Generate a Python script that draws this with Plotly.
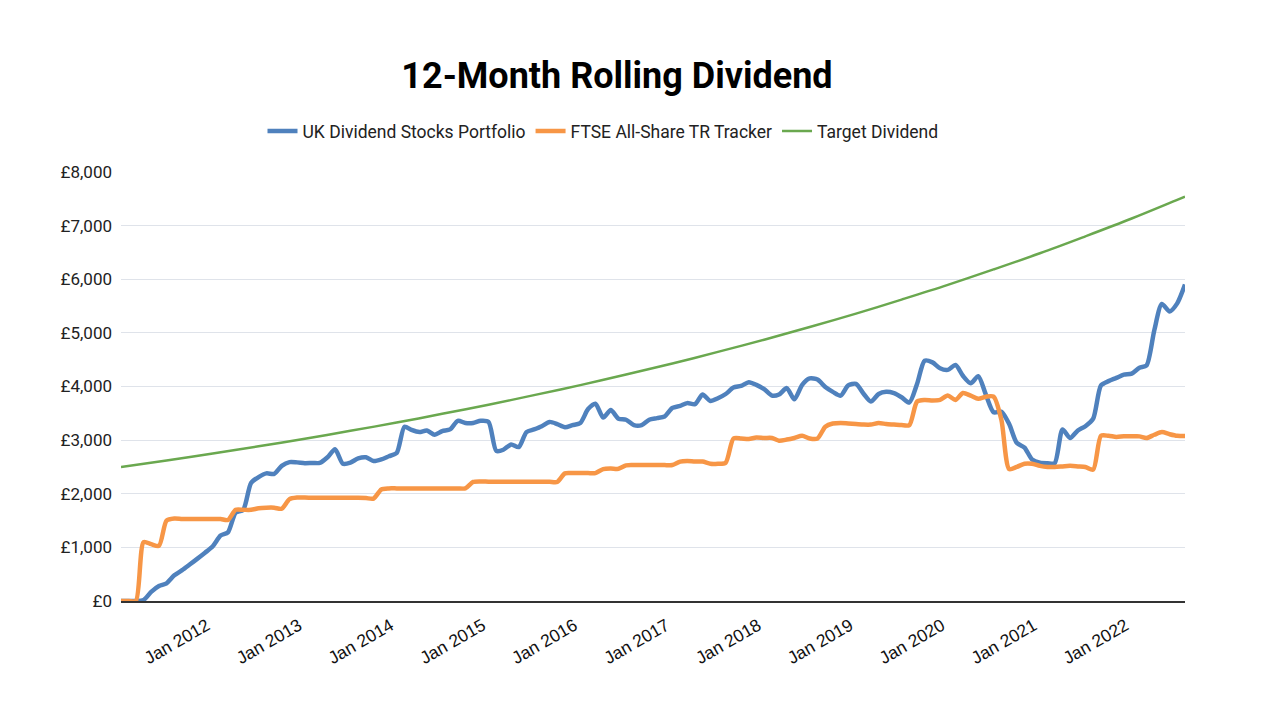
import pandas as pd
import plotly.graph_objects as go

months = pd.date_range("2011-01-01", "2022-08-01", freq="MS")

portfolio = [
    0, 0, 0, 20, 170, 280, 330, 480, 575, 680, 790, 900,
    1020, 1220, 1280, 1650, 1700, 2200, 2310, 2380, 2370, 2520, 2590, 2585,
    2570, 2575, 2575, 2680, 2830, 2560, 2580, 2660, 2680, 2610, 2640, 2700,
    2760, 3250, 3190, 3150, 3180, 3100, 3170, 3200, 3360, 3320, 3320, 3360,
    3340, 2800, 2820, 2920, 2870, 3150, 3200, 3260, 3340, 3300, 3240, 3280,
    3320, 3580, 3680, 3420, 3560, 3400, 3380, 3280, 3280, 3380, 3410, 3440,
    3600, 3640, 3690, 3670, 3850, 3730, 3780, 3860, 3980, 4010, 4080, 4030,
    3950, 3830, 3850, 3970, 3760, 4030, 4150, 4130, 3990, 3900, 3830, 4020,
    4050, 3860, 3720, 3860, 3900, 3875, 3800, 3700, 4050, 4480, 4450, 4340,
    4310, 4400, 4200, 4060, 4190, 3840, 3520, 3530, 3300, 2950, 2860, 2640,
    2580, 2570, 2570, 3200, 3040, 3180, 3260, 3400, 4020, 4100, 4160, 4220,
    4240, 4350, 4390, 5050, 5540, 5400, 5550, 5900,
]

tracker = [
    0, 0, 0, 1100, 1060, 1030, 1500, 1540, 1530, 1530, 1530, 1530,
    1530, 1530, 1510, 1700, 1700, 1700, 1730, 1740, 1740, 1720, 1900, 1930,
    1930, 1925, 1925, 1925, 1925, 1925, 1925, 1925, 1920, 1910, 2080, 2100,
    2100, 2100, 2100, 2100, 2100, 2100, 2100, 2100, 2100, 2100, 2220, 2230,
    2225, 2225, 2225, 2225, 2225, 2225, 2225, 2225, 2225, 2220, 2380, 2385,
    2385, 2385, 2385, 2460, 2470, 2465, 2530, 2535, 2535, 2535, 2535, 2535,
    2535, 2600, 2610, 2600, 2600, 2560, 2560, 2580, 3030, 3030, 3020, 3050,
    3040, 3040, 2990, 3010, 3040, 3080, 3030, 3030, 3250, 3310, 3320, 3310,
    3300, 3290, 3290, 3320, 3300, 3290, 3280, 3280, 3720, 3750, 3740, 3750,
    3830, 3750, 3880, 3830, 3770, 3810, 3810, 3380, 2460, 2500, 2560, 2560,
    2520, 2500, 2500, 2510, 2520, 2510, 2500, 2450, 3080, 3080, 3060, 3070,
    3070, 3070, 3040, 3100, 3150, 3110, 3080, 3075,
]

target_dates = list(pd.date_range("2011-01-01", "2022-07-01", freq="6MS")) + [pd.Timestamp("2022-08-01")]
target = [2500, 2622, 2750, 2884, 3025, 3173, 3328, 3490, 3660, 3839, 4026, 4223,
          4429, 4645, 4872, 5110, 5359, 5621, 5895, 6183, 6484, 6801, 7133, 7481, 7540]

y_ticks = [0, 1000, 2000, 3000, 4000, 5000, 6000, 7000, 8000]
y_labels = ["£0", "£1,000", "£2,000", "£3,000", "£4,000", "£5,000", "£6,000", "£7,000", "£8,000"]
x_ticks = list(pd.date_range("2012-01-01", "2022-01-01", freq="12MS"))
x_labels = ["Jan 2012", "Jan 2013", "Jan 2014", "Jan 2015", "Jan 2016", "Jan 2017",
            "Jan 2018", "Jan 2019", "Jan 2020", "Jan 2021", "Jan 2022"]

fig = go.Figure()
fig.add_trace(go.Scatter(x=months, y=portfolio, name="UK Dividend Stocks Portfolio", mode="lines",
                         line=dict(color="#4f81bd", width=4.5, shape="spline", smoothing=0.7)))
fig.add_trace(go.Scatter(x=months, y=tracker, name="FTSE All-Share TR Tracker", mode="lines",
                         line=dict(color="#f79646", width=4.5, shape="spline", smoothing=0.7)))
fig.add_trace(go.Scatter(x=target_dates, y=target, name="Target Dividend", mode="lines",
                         line=dict(color="#6aa84f", width=2.5, shape="spline")))

W, H = 1264, 704
fig.update_layout(
    width=W, height=H,
    paper_bgcolor="white", plot_bgcolor="white",
    font=dict(family="Roboto", color="#222222", size=16),
    title=dict(text="<b>12-Month Rolling Dividend</b>", x=609/W, xanchor="center", xref="container",
               y=1 - 67/H, yanchor="middle", yref="container",
               font=dict(size=36, color="#000000", family="Roboto")),
    legend=dict(orientation="h", x=595/W, xanchor="center", xref="container",
                y=1 - 123/H, yanchor="middle", yref="container",
                font=dict(size=17.5, color="#222222"), itemwidth=30, traceorder="normal"),
    margin=dict(l=113, r=W - 1177, t=164, b=H - 593),
    showlegend=True,
)
fig.update_xaxes(range=[months[0], months[-1]], tickvals=x_ticks, ticktext=x_labels,
                 tickangle=-30, showgrid=False, showline=True, linecolor="#333333", linewidth=1.5,
                 ticks="", tickfont=dict(size=17.5, color="#111111", family="Arial"),
                 ticklabelshift=-6, ticklabelstandoff=6, zeroline=False)
fig.update_yaxes(range=[0, 8000], tickvals=y_ticks, ticktext=y_labels,
                 showgrid=True, gridcolor="#dfe3ea", gridwidth=1, zeroline=False, showline=False,
                 tickfont=dict(size=17, color="#222222"), ticks="", ticklabelstandoff=8)

fig.write_html("out.html")
